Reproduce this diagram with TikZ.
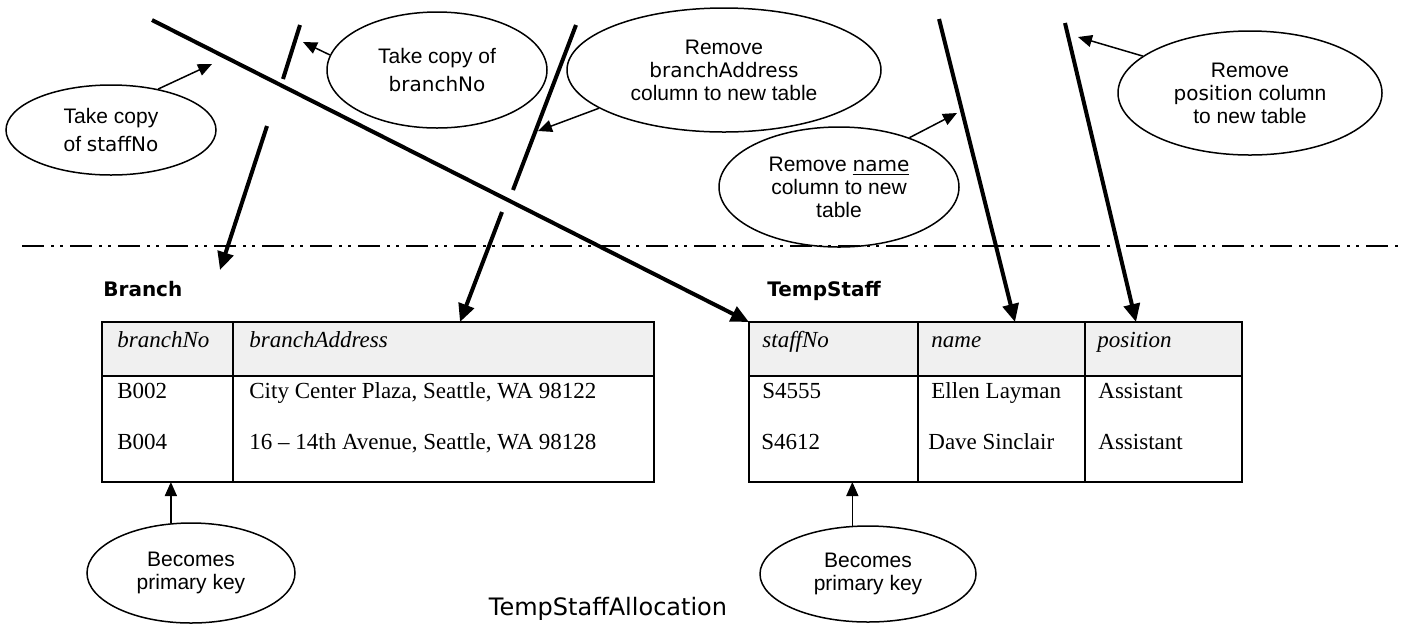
\documentclass[tikz,border=0pt]{standalone}
\usepackage{fontspec}
\setmainfont{Liberation Sans}
\newfontfamily\tabfont{Liberation Serif}
\newfontfamily\comicfont{DejaVu Sans}
\usetikzlibrary{arrows.meta,shapes.geometric}
\newcommand{\cw}[1]{{\comicfont\fontsize{10}{12}\selectfont #1}}

\begin{document}
\begin{tikzpicture}[x=.5pt,y=-.5pt,
    note/.style={ellipse,draw,line width=.75pt,inner sep=0pt,align=center,
        font=\fontsize{10.5}{11.5}\selectfont},
    colline/.style={line width=2pt},
    colarrow/.style={colline,-{Triangle[length=9pt,width=8pt]}},
    pointer/.style={line width=.75pt,-{Triangle[length=7pt,width=6pt]}},
    tabline/.style={line width=1.2pt},
    cell/.style={anchor=base west,inner sep=0pt,font=\tabfont\fontsize{11.5}{13}\selectfont},
    head/.style={cell,font=\tabfont\itshape\fontsize{11.5}{13}\selectfont},
    tabname/.style={anchor=west,inner sep=0pt,font=\comicfont\bfseries\fontsize{10}{12}\selectfont}]

    \useasboundingbox (0,0) rectangle (1403,623);

    % the notes
    \node [note,minimum width=105pt,minimum height=45pt,font=\fontsize{10.5}{14}\selectfont]
        (cpyS) at (111,130) {Take copy\\of \cw{staffNo}};
    \node [note,minimum width=110pt,minimum height=58pt,font=\fontsize{10.5}{14}\selectfont]
        (cpyB) at (437,70) {Take copy of\\\cw{branchNo}};
    \node [note,minimum width=157pt,minimum height=62pt] (remA) at (724,70)
        {Remove\\\cw{branchAddress}\\column to new table};
    \node [note,minimum width=120pt,minimum height=60pt] (remN) at (839,187)
        {Remove \underline{\cw{name}}\\column to new\\table};
    \node [note,minimum width=132pt,minimum height=62pt] (remP) at (1250,93)
        {Remove\\\cw{position} column\\to new table};
    \node [note,minimum width=104pt,minimum height=50pt] (keyB) at (191,573) {Becomes\\primary key};
    \node [note,minimum width=108pt,minimum height=48pt] (keyS) at (868,574) {Becomes\\primary key};

    % the two tables
    \coordinate (bNW) at (102,322);
    \coordinate (bSE) at (654,482);
    \coordinate (sNW) at (749,322);
    \coordinate (sSE) at (1242,482);

    \fill [black!6] (bNW) rectangle (654,376);
    \fill [black!6] (sNW) rectangle (1242,376);
    \draw [tabline] (bNW) rectangle (bSE) (102,376) -- (654,376) (233,322) -- (233,482);
    \draw [tabline] (sNW) rectangle (sSE) (749,376) -- (1242,376)
        (918,322) -- (918,482) (1085,322) -- (1085,482);

    \node [tabname] (bName) at (103,289) {Branch};
    \node [tabname] (sName) at (767,291) {TempStaff};

    \foreach \x/\t in {117/branchNo,249/branchAddress,762/staffNo,931/name,1097/position}
        \node [head] (h-\t) at (\x,347) {\t};

    \node [cell] (b1) at (117,398) {B002};
    \node [cell] (b1a) at (249,398) {City Center Plaza, Seattle, WA 98122};
    \node [cell] (b2) at (117,449) {B004};
    \node [cell] (b2a) at (249,449) {16 – 14th Avenue, Seattle, WA 98128};
    \node [cell] (s1) at (762,398) {S4555};
    \node [cell] (s1n) at (931,398) {Ellen Layman};
    \node [cell] (s1p) at (1098,398) {Assistant};
    \node [cell] (s2) at (761,449) {S4612};
    \node [cell] (s2n) at (928,449) {Dave Sinclair};
    \node [cell] (s2p) at (1098,449) {Assistant};

    \node [anchor=base,inner sep=0pt,font=\comicfont\fontsize{12}{14}\selectfont]
        (title) at (608,615) {TempStaffAllocation};

    % split line
    \coordinate (sepL) at (22,246);
    \coordinate (sepR) at (1403,246);
    \draw [line width=1.4pt,dash pattern=on 11pt off 3.5pt on 1.5pt off 3pt on 1.5pt off 3.5pt]
        (sepL) -- (sepR);

    % columns moved
    \coordinate (cS) at (152,20);
    \coordinate (cB1) at (300,25);
    \coordinate (cB2) at (283,79);
    \coordinate (cB3) at (267,126);
    \coordinate (bTo) at (220,270);
    \coordinate (cA1) at (576,25);
    \coordinate (cA2) at (513,190);
    \coordinate (cA3) at (502,212);
    \coordinate (aTo) at (460,322);
    \coordinate (cN) at (939,19);
    \coordinate (nTo) at (1015,322);
    \coordinate (cP) at (1065,23);
    \coordinate (pTo) at (1136,322);

    \draw [colarrow] (cS) -- (sNW);
    \draw [colline] (cB1) -- (cB2);
    \draw [colarrow] (cB3) -- (bTo);
    \draw [colline] (cA1) -- (cA2);
    \draw [colarrow] (cA3) -- (aTo);
    \draw [colarrow] (cN) -- (nTo);
    \draw [colarrow] (cP) -- (pTo);

    % pointers from the notes
    \coordinate (tS) at (212,64);
    \coordinate (tB) at (303,42);
    \coordinate (tA) at (538,131);
    \coordinate (tN) at (957,113);
    \coordinate (tP) at (1078,37);

    \draw [pointer] (cpyS.41) -- (tS);
    \draw [pointer] (cpyB.172) -- (tB);
    \draw [pointer] (remA.197) -- (tA);
    \draw [pointer] (remN.35) -- (tN);
    \draw [pointer] (remP.161) -- (tP);
    \draw [pointer] (keyB.112) -- (keyB.112 |- bSE);
    \draw [pointer] (keyS.108) -- (keyS.108 |- sSE);
\end{tikzpicture}
\end{document}
